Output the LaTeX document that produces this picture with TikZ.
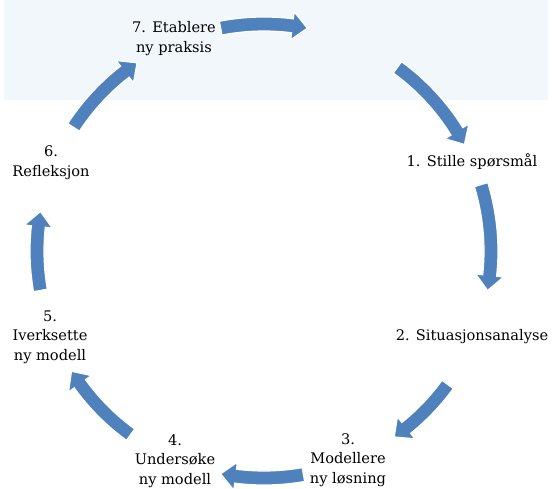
\documentclass[tikz,border=0pt]{standalone}
\usepackage{fontspec}
\setmainfont{DejaVu Serif}
\definecolor{arrowblue}{RGB}{79,129,189}
\definecolor{bandblue}{RGB}{242,247,251}
% curved block arrow on the cycle: #1 tail angle, #2 tip angle (clockwise)
\newcommand\cycarrow[2]{%
  \pgfmathsetmacro\hb{#2+3.8}%
  \path[cyc] (#1:234pt) arc[start angle=#1,end angle=\hb,radius=234pt]
    -- (\hb:241pt) -- (#2:227pt) -- (\hb:213pt) -- (\hb:220pt)
    arc[start angle=\hb,end angle=#1,radius=220pt] -- cycle;}
\begin{document}
\begin{tikzpicture}[x=1pt,y=1pt,
  lbl/.style={font=\fontsize{14.6}{19.5}\selectfont, align=center, inner sep=0pt, text=black},
  cyc/.style={fill=arrowblue, draw=white, line width=1.2pt, line join=miter}]
\useasboundingbox (0,0) rectangle (552,488);
\fill[bandblue] (4,388) rectangle (548,488);
\coordinate (C) at (264,237);
\begin{scope}[shift={(C)}]
  \cycarrow{101}{79}
  \cycarrow{54}{28}
  \cycarrow{17}{-10}
  \cycarrow{-36}{-55}
  \cycarrow{-80}{-101}
  \cycarrow{-126}{-148}
  \cycarrow{190}{170}
  \cycarrow{147}{124}
\end{scope}
\node[lbl] (n7) at (174,449.5) {7. Etablere\\ny praksis};
\node[lbl] (n1) at (472,326) {1. Stille spørsmål};
\node[lbl] (n2) at (472,151) {2. Situasjonsanalyse};
\node[lbl] (n3) at (348,28) {3.\\Modellere\\ny løsning};
\node[lbl] (n4) at (175,27) {4.\\Undersøke\\ny modell};
\node[lbl] (n5) at (50,151) {5.\\Iverksette\\ny modell};
\node[lbl] (n6) at (51,325.5) {6.\\Refleksjon};
\end{tikzpicture}
\end{document}
